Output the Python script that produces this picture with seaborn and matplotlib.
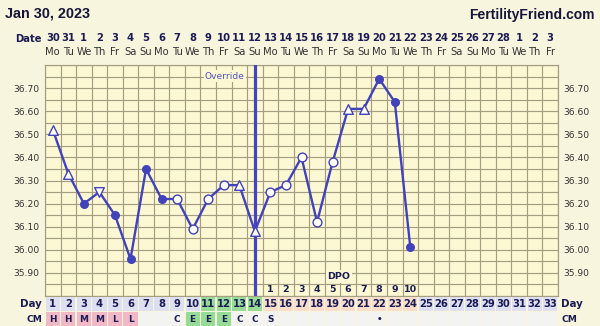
import numpy as np
import pandas as pd
import matplotlib
matplotlib.use("Agg")
import matplotlib.pyplot as plt
import matplotlib.transforms as mtransforms
import seaborn as sns

# ---------------- data ----------------
cycle_days = list(range(1, 25))
temps = [36.52, 36.33, 36.20, 36.25, 36.15, 35.96, 36.35, 36.22, 36.22, 36.09,
         36.22, 36.28, 36.28, 36.08, 36.25, 36.28, 36.40, 36.12, 36.38, 36.61,
         36.61, 36.74, 36.64, 36.01]
marker_kind = ['tri', 'tri', 'fill', 'tridown', 'fill', 'fill', 'fill', 'fill', 'open', 'open',
               'open', 'open', 'tri', 'tri', 'open', 'open', 'open', 'open', 'open', 'tri',
               'tri', 'fill', 'fill', 'fill']
all_days = list(range(1, 34))
date_labels = ['30', '31'] + [str(d) for d in range(1, 29)] + ['1', '2', '3']
weekday_labels = (['Mo', 'Tu', 'We', 'Th', 'Fr', 'Sa', 'Su'] * 5)[:33]
cm_labels = ['H', 'H', 'M', 'M', 'L', 'L', '', '', 'C', 'E', 'E', 'E', 'C', 'C', 'S',
             '', '', '', '', '', '', '•', '', '', '', '', '', '', '', '', '', '', '']
dpo_labels = [str(i) for i in range(1, 11)]
dpo_days = list(range(15, 25))
override_day = 14
ytick_vals = [35.90, 36.00, 36.10, 36.20, 36.30, 36.40, 36.50, 36.60, 36.70]
title_text = 'Jan 30, 2023'
site_text = 'FertilityFriend.com'

# ---------------- style ----------------
W, H = 600, 326
outer_bg = '#f8f5df'
plot_bg = '#fcf8d4'
grid_c = '#a49d80'
line_c = '#4242bb'
navy = '#1c1c55'
txt_gray = '#333333'
lav = '#dedff0'
green = '#96dc96'
peach = '#f9dfcb'
pink = '#f1b9c6'
light = '#f3f3f1'

sns.set_theme(style='white')
plt.rcParams['font.family'] = ['DejaVu Sans']

fig = plt.figure(figsize=(W / 100, H / 100), dpi=100, facecolor=outer_bg)

def px2fx(x):
    return x / W

def px2fy(y):
    return 1 - y / H

left_px, right_px, top_px, bot_px = 45, 558, 65, 296
ax = fig.add_axes([px2fx(left_px), px2fy(bot_px), (right_px - left_px) / W, (bot_px - top_px) / H])
ax.set_facecolor(plot_bg)
ax.set_xlim(0.5, 33.5)
ax.set_ylim(35.80, 36.80)

# grid
for xv in np.arange(0.5, 34, 1):
    ax.axvline(xv, color=grid_c, lw=0.85, zorder=1)
for yv in np.arange(35.80, 36.801, 0.05):
    ax.axhline(yv, color=grid_c, lw=0.85, zorder=1)
for s in ax.spines.values():
    s.set_color(grid_c)
    s.set_linewidth(0.85)

# override line
ax.axvline(override_day, color='#4343c8', lw=2.3, zorder=3)
ax.text(13.35, 36.752, 'Override', ha='right', va='center', fontsize=6.6, color='#5252c0',
        bbox=dict(facecolor=plot_bg, edgecolor='none', pad=1.0), zorder=4)

# temperatures
df = pd.DataFrame({'day': cycle_days, 'temp': temps, 'kind': marker_kind})
sns.lineplot(data=df, x='day', y='temp', color=line_c, lw=1.7, ax=ax, zorder=5)
styles = {
    'fill': dict(marker='o', s=30, facecolor=line_c, edgecolor=line_c),
    'open': dict(marker='o', s=40, facecolor='white', edgecolor=line_c),
    'tri': dict(marker='^', s=48, facecolor='white', edgecolor=line_c),
    'tridown': dict(marker='v', s=48, facecolor='white', edgecolor=line_c),
}
for k, st in styles.items():
    sub = df[df['kind'] == k]
    sns.scatterplot(data=sub, x='day', y='temp', marker=st['marker'], s=st['s'],
                    color=st['facecolor'], edgecolor=st['edgecolor'], linewidth=1.0,
                    ax=ax, zorder=6, legend=False)

# y labels both sides
ax.set_yticks(ytick_vals)
ax.set_yticklabels([f'{v:.2f}' for v in ytick_vals], fontsize=6.6, color=txt_gray)
ax.tick_params(axis='y', length=0, pad=4, labelleft=True, labelright=True)
ax.set_xticks([])
ax.set_xlabel('')
ax.set_ylabel('')

# DPO
ax.text(19.4, 35.885, 'DPO', ha='center', va='center', fontsize=6.8, fontweight='bold', color=navy,
        bbox=dict(facecolor=plot_bg, edgecolor='none', pad=1.2), zorder=4)
for d, lab in zip(dpo_days, dpo_labels):
    ax.text(d, 35.826, lab, ha='center', va='center', fontsize=6.8, fontweight='bold', color=navy, zorder=4)

# date header
tr = mtransforms.blended_transform_factory(ax.transData, fig.transFigure)
for d, lab, wd in zip(all_days, date_labels, weekday_labels):
    fig.text(d, px2fy(38), lab, transform=tr, ha='center', va='center', fontsize=7.2,
             fontweight='bold', color=navy)
    fig.text(d, px2fy(52), wd, transform=tr, ha='center', va='center', fontsize=7.2,
             color=txt_gray)
fig.text(px2fx(42), px2fy(39), 'Date', ha='right', va='center', fontsize=7.2,
         fontweight='bold', color=navy)

fig.text(px2fx(5), px2fy(14), title_text, ha='left', va='center', fontsize=10.4,
         fontweight='bold', color='#16163a', family=['Liberation Sans', 'DejaVu Sans'])
fig.text(px2fx(595), px2fy(15), site_text, ha='right', va='center', fontsize=10.0,
         fontweight='bold', color='#16163a', family=['Liberation Sans', 'DejaVu Sans'])

# bottom rows: Day and CM
bx = fig.add_axes([px2fx(left_px), 0, (right_px - left_px) / W, (H - 297) / H])
bx.set_xlim(0.5, 33.5)
bx.set_ylim(0, 2)
bx.axis('off')
day_colors = []
for d in all_days:
    if 11 <= d <= 14:
        day_colors.append(green)
    elif 15 <= d <= 24:
        day_colors.append(peach)
    else:
        day_colors.append(lav)
cm_colors = []
for d in all_days:
    if d <= 6:
        cm_colors.append(pink)
    elif 10 <= d <= 12:
        cm_colors.append(green)
    else:
        cm_colors.append(light)
bx.bar(all_days, [0.96] * 33, bottom=1.04, width=0.92, color=day_colors, edgecolor='none')
bx.bar(all_days, [1.0] * 33, bottom=0.0, width=0.92, color=cm_colors, edgecolor='none')
for d, c in zip(all_days, cm_labels):
    bx.text(d, 1.52, str(d), ha='center', va='center', fontsize=7.2, fontweight='bold', color=navy)
    if c:
        bx.text(d, 0.45, c, ha='center', va='center', fontsize=6.4, fontweight='bold', color=navy)
fig.text(px2fx(42), px2fy(304), 'Day', ha='right', va='center', fontsize=7.4, fontweight='bold', color=navy)
fig.text(px2fx(42), px2fy(320), 'CM', ha='right', va='center', fontsize=6.6, fontweight='bold', color=navy)
fig.text(px2fx(561), px2fy(304), 'Day', ha='left', va='center', fontsize=7.4, fontweight='bold', color=navy)
fig.text(px2fx(561), px2fy(320), 'CM', ha='left', va='center', fontsize=6.6, fontweight='bold', color=navy)

fig.savefig('out.png', dpi=100, facecolor=outer_bg)
